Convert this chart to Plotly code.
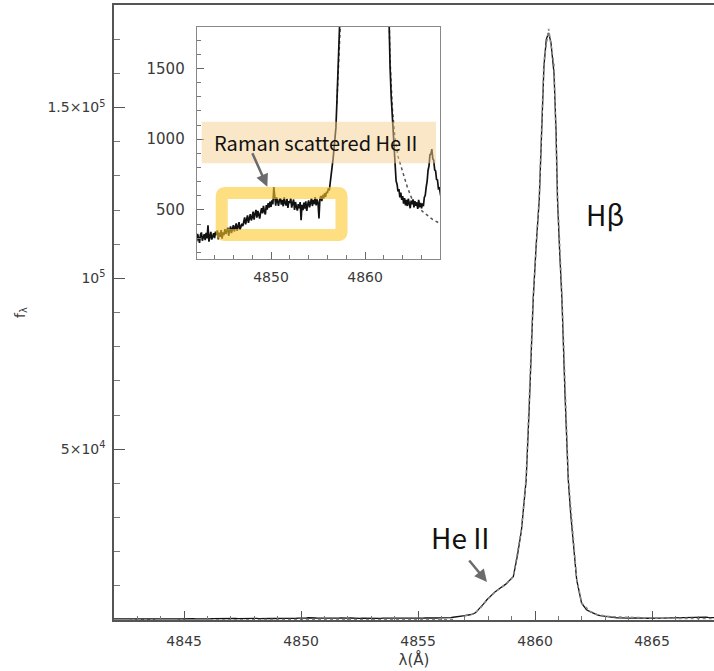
import plotly.graph_objects as go

# ---------------- data ----------------
# blue side continuum with Raman scattered He II (noisy, 0.1 A sampling)
blue_wl = [
    4842.0, 4842.1, 4842.2, 4842.3, 4842.4, 4842.5, 4842.6, 4842.7, 4842.8, 4842.9,
    4843.0, 4843.1, 4843.2, 4843.3, 4843.4, 4843.5, 4843.6, 4843.7, 4843.8, 4843.9,
    4844.0, 4844.1, 4844.2, 4844.3, 4844.4, 4844.5, 4844.6, 4844.7, 4844.8, 4844.9,
    4845.0, 4845.1, 4845.2, 4845.3, 4845.4, 4845.5, 4845.6, 4845.7, 4845.8, 4845.9,
    4846.0, 4846.1, 4846.2, 4846.3, 4846.4, 4846.5, 4846.6, 4846.7, 4846.8, 4846.9,
    4847.0, 4847.1, 4847.2, 4847.3, 4847.4, 4847.5, 4847.6, 4847.7, 4847.8, 4847.9,
    4848.0, 4848.1, 4848.2, 4848.3, 4848.4, 4848.5, 4848.6, 4848.7, 4848.8, 4848.9,
    4849.0, 4849.1, 4849.2, 4849.3, 4849.4, 4849.5, 4849.6, 4849.7, 4849.8, 4849.9,
    4850.0, 4850.1, 4850.2, 4850.3, 4850.4, 4850.5, 4850.6, 4850.7, 4850.8, 4850.9,
    4851.0, 4851.1, 4851.2, 4851.3, 4851.4, 4851.5, 4851.6, 4851.7, 4851.8, 4851.9,
    4852.0, 4852.1, 4852.2, 4852.3, 4852.4, 4852.5, 4852.6, 4852.7, 4852.8, 4852.9,
    4853.0, 4853.1, 4853.2, 4853.3, 4853.4, 4853.5, 4853.6, 4853.7, 4853.8, 4853.9,
    4854.0, 4854.1, 4854.2, 4854.3, 4854.4, 4854.5, 4854.6, 4854.7, 4854.8, 4854.9,
    4855.0, 4855.1, 4855.2, 4855.3, 4855.4, 4855.5, 4855.6, 4855.7, 4855.8, 4855.9,
    4856.0, 4856.1, 4856.2, 4856.3, 4856.4, 4856.5,
]
blue_flux = [
    312, 278, 331, 296, 268, 325, 341, 283, 306, 329,
    287, 338, 300, 392, 276, 319, 345, 291, 314, 336,
    301, 347, 322, 356, 292, 339, 311, 358, 298, 341,
    322, 365, 331, 352, 375, 318, 361, 384, 337, 369,
    392, 348, 381, 405, 352, 389, 414, 361, 377, 402,
    386, 425, 447, 398, 431, 462, 409, 440, 471, 426,
    447, 489, 431, 472, 501, 446, 493, 468, 439, 485,
    512, 476, 529, 488, 469, 534, 503, 548, 517, 559,
    521, 568, 540, 662, 571, 531, 589, 552, 529, 574,
    582, 538, 571, 526, 590, 549, 531, 579, 515, 562,
    551, 583, 517, 548, 574, 501, 556, 523, 495, 541,
    512, 556, 428, 537, 498, 552, 509, 561, 494, 538,
    567, 519, 553, 582, 528, 571, 541, 590, 532, 574,
    551, 440, 577, 598, 563, 606, 581, 619, 592, 628,
    620, 652, 639, 688, 721, 806,
]
# He II 4859 shoulder and H-beta core
core_wl = [
    4856.6, 4856.7, 4856.8, 4856.9, 4857.0, 4857.1, 4857.2, 4857.3, 4857.45, 4857.65,
    4857.8, 4857.95, 4858.08, 4858.3, 4858.5, 4858.75, 4859.07, 4859.25, 4859.42, 4859.62,
    4859.75, 4859.92, 4860.05, 4860.18, 4860.28, 4860.38, 4860.48, 4860.58, 4860.68, 4860.81,
    4860.9, 4860.96, 4861.05, 4861.15, 4861.28, 4861.42, 4861.52, 4861.64, 4861.78, 4861.99,
    4862.2, 4862.35, 4862.5, 4862.66, 4862.78, 4862.9, 4863.0, 4863.16,
]
core_flux = [
    860, 925, 990, 1080, 1250, 1390, 1512, 1660, 2100, 3450,
    4700, 6000, 6850, 8300, 9300, 10500, 12700, 19000, 26400, 41000,
    62000, 93700, 110000, 123000, 142500, 162000, 170000, 171800, 169000, 160000,
    142500, 123000, 108000, 93700, 66000, 41000, 31260, 21500, 11740, 4920,
    3000, 2460, 1900, 1512, 1300, 1159, 1000, 853,
]
# red side continuum and weak line (noisy)
red_wl = [
    4863.3, 4863.4, 4863.5, 4863.6, 4863.7, 4863.8, 4863.9,
    4864.0, 4864.1, 4864.2, 4864.3, 4864.4, 4864.5, 4864.6, 4864.7, 4864.8, 4864.9,
    4865.0, 4865.1, 4865.2, 4865.3, 4865.4, 4865.5, 4865.6, 4865.7, 4865.8, 4865.9,
    4866.0, 4866.1, 4866.2, 4866.3, 4866.4, 4866.5, 4866.6, 4866.7, 4866.8, 4866.9,
    4867.0, 4867.1, 4867.2, 4867.3, 4867.4, 4867.5, 4867.6, 4867.7, 4867.8, 4867.9,
    4868.0, 4868.1,
]
red_flux = [
    705, 682, 631, 648, 589, 622, 571,
    598, 545, 583, 532, 571, 528, 579, 536, 512, 566,
    541, 575, 518, 562, 529, 554, 508, 571, 522, 550,
    511, 547, 526, 588, 603, 661, 702, 781, 812, 891,
    896, 930, 862, 851, 783, 776, 715, 712, 651, 655,
    602, 580,
]
# model profile (dotted): faint blue continuum, then the H-beta + He II model
model_blue_wl = [4842.0, 4846.0, 4850.0, 4854.0, 4856.6]
model_blue_flux = [60, 80, 100, 120, 140]
model_wl = [
    4857.0, 4857.2, 4857.4, 4857.65, 4857.95, 4858.3, 4858.75, 4859.07, 4859.42, 4859.62,
    4859.92, 4860.18, 4860.38, 4860.58, 4860.81, 4860.96, 4861.15, 4861.42, 4861.64, 4861.78,
    4861.99, 4862.35, 4862.66, 4862.9, 4863.16, 4863.5, 4863.9, 4864.5, 4865.0, 4866.1,
    4867.2, 4868.1,
]
model_flux = [
    1250, 1500, 1850, 3400, 5900, 8300, 10400, 12800, 26600, 41500,
    94500, 124000, 163500, 173000, 162500, 124500, 95000, 41800, 21800, 11900,
    5000, 2520, 1560, 1220, 1020, 880, 785, 660, 575, 490,
    432, 400,
]
main_yticks = [50000, 100000, 150000]
main_yticktext = ["5×10<sup>4</sup>", "10<sup>5</sup>", "1.5×10<sup>5</sup>"]

obs_wl = blue_wl + core_wl + red_wl
obs_flux = blue_flux + core_flux + red_flux

# ---------------- layout geometry (pixels) ----------------
W, H = 714, 671
PL, PR, PT, PB = 114, 714, 5, 620  # main plot area
XRANGE = [4842.0, 4867.65]


def px(xp):
    return (xp - PL) / (PR - PL)


def py(yp):
    return (PB - yp) / (PB - PT)


TICK_FONT = dict(family="DejaVu Sans", size=14, color="#3a3a3a")
AXC = "#555555"

fig = go.Figure()

# main panel
fig.add_trace(go.Scatter(x=obs_wl, y=obs_flux, mode="lines",
                         line=dict(color="#111111", width=1.3),
                         xaxis="x", yaxis="y", showlegend=False))
for mw, mf in ((model_blue_wl, model_blue_flux), (model_wl, model_flux)):
    fig.add_trace(go.Scatter(x=mw, y=mf, mode="lines",
                             line=dict(color="#888888", width=1.6, dash="dot"),
                             xaxis="x", yaxis="y", showlegend=False))
# tick-carrier (overlay axis drawing the inside ticks of the main x axis)
fig.add_trace(go.Scatter(x=[XRANGE[0]], y=[None], mode="lines", xaxis="x3", yaxis="y",
                         showlegend=False, hoverinfo="skip"))
# inset panel
for mw, mf in ((model_blue_wl, model_blue_flux), (model_wl, model_flux)):
    fig.add_trace(go.Scatter(x=mw, y=mf, mode="lines",
                             line=dict(color="#555555", width=1.5, dash="dot"),
                             xaxis="x2", yaxis="y2", showlegend=False))
fig.add_trace(go.Scatter(x=obs_wl, y=obs_flux, mode="lines",
                         line=dict(color="#111111", width=1.7),
                         xaxis="x2", yaxis="y2", showlegend=False))

fig.update_layout(
    width=W, height=H,
    margin=dict(l=PL, r=W - PR, t=PT, b=H - PB, pad=0),
    paper_bgcolor="white", plot_bgcolor="white",
    xaxis=dict(
        range=XRANGE, domain=[0, 1], anchor="y",
        showline=True, linecolor=AXC, linewidth=1.5, mirror=True,
        showgrid=False, zeroline=False,
        ticks="outside", tick0=4845, dtick=5, ticklen=7, tickcolor="rgba(0,0,0,0)",
        tickfont=TICK_FONT,
        title=dict(text="λ(Å)", font=dict(family="DejaVu Sans", size=15, color="#3a3a3a"), standoff=7),
    ),
    xaxis3=dict(
        range=XRANGE, overlaying="x", anchor="y", side="bottom",
        showline=False, showgrid=False, zeroline=False, showticklabels=False,
        ticks="inside", tick0=4845, dtick=5, ticklen=9, tickwidth=1.2, tickcolor=AXC,
        minor=dict(ticks="inside", dtick=1, ticklen=4, tickwidth=1, tickcolor="#777777"),
    ),
    yaxis=dict(
        range=[0, 180000], domain=[0, 1], anchor="x",
        showline=True, linecolor=AXC, linewidth=1.5, mirror=False,
        showgrid=False, zeroline=False,
        ticks="inside", tickmode="array", tickvals=main_yticks, ticktext=main_yticktext,
        ticklen=11, tickwidth=1.2, tickcolor=AXC,
        minor=dict(ticks="inside", dtick=10000, tick0=0, ticklen=6, tickwidth=1, tickcolor="#777777"),
        tickfont=TICK_FONT, ticklabelstandoff=4,
        title=dict(text="f<sub>λ</sub>", font=dict(family="DejaVu Sans", size=14, color="#3a3a3a"), standoff=19),
    ),
    xaxis2=dict(
        range=[4842.1, 4868.0], domain=[px(196.7), px(440.3)], anchor="y2",
        showline=True, linecolor="#888888", linewidth=1, mirror=True,
        showgrid=False, zeroline=False,
        ticks="inside", tick0=4850, dtick=10, ticklen=7, tickwidth=1, tickcolor="#666666",
        minor=dict(ticks="inside", dtick=2, ticklen=4, tickwidth=1, tickcolor="#777777"),
        tickfont=TICK_FONT, ticklabelstandoff=6,
    ),
    yaxis2=dict(
        range=[157, 1795], domain=[py(258.5), py(26.7)], anchor="x2",
        showline=True, linecolor="#888888", linewidth=1, mirror=True,
        showgrid=False, zeroline=False,
        ticks="inside", tick0=0, dtick=500, ticklen=7, tickwidth=1, tickcolor="#666666",
        minor=dict(ticks="inside", dtick=100, ticklen=4, tickwidth=1, tickcolor="#777777"),
        tickfont=dict(family="DejaVu Sans", size=15, color="#3a3a3a"), ticklabelstandoff=8,
    ),
)

# highlight band behind the label
fig.add_shape(type="rect", xref="paper", yref="paper",
              x0=px(201.7), x1=px(436), y0=py(163.3), y1=py(121.7),
              line=dict(width=0), fillcolor="rgba(246,208,146,0.5)", layer="above")

# rounded yellow frame around the Raman feature
fx0, fx1, fy0, fy1, r = 221.7, 341.5, 193.0, 235.0, 3.0
path = (
    f"M {px(fx0 + r)},{py(fy0)} L {px(fx1 - r)},{py(fy0)} "
    f"Q {px(fx1)},{py(fy0)} {px(fx1)},{py(fy0 + r)} "
    f"L {px(fx1)},{py(fy1 - r)} Q {px(fx1)},{py(fy1)} {px(fx1 - r)},{py(fy1)} "
    f"L {px(fx0 + r)},{py(fy1)} Q {px(fx0)},{py(fy1)} {px(fx0)},{py(fy1 - r)} "
    f"L {px(fx0)},{py(fy0 + r)} Q {px(fx0)},{py(fy0)} {px(fx0 + r)},{py(fy0)} Z"
)
fig.add_shape(type="path", xref="paper", yref="paper", path=path,
              line=dict(color="rgba(252,200,43,0.6)", width=12), layer="above")

LABEL_FONT = "Noto Sans CJK KR"
fig.add_annotation(xref="paper", yref="paper", x=px(315), y=py(142),
                   text="Raman scattered He II", showarrow=False,
                   font=dict(family=LABEL_FONT, size=20, color="#111111"),
                   xanchor="center", yanchor="middle")
fig.add_annotation(xref="paper", yref="paper", x=px(267.3), y=py(186.7),
                   ax=-15.6, ay=-35, text="", showarrow=True,
                   arrowhead=2, arrowsize=1, arrowwidth=2.5, arrowcolor="#6b6b6b")

fig.add_annotation(xref="paper", yref="paper", x=px(605), y=py(214),
                   text="Hβ", showarrow=False,
                   font=dict(family=LABEL_FONT, size=28, color="#111111"),
                   xanchor="center", yanchor="middle")
fig.add_annotation(xref="paper", yref="paper", x=px(460), y=py(537),
                   text="He II", showarrow=False,
                   font=dict(family=LABEL_FONT, size=28, color="#111111"),
                   xanchor="center", yanchor="middle")
fig.add_annotation(xref="paper", yref="paper", x=px(487), y=py(582),
                   ax=-19, ay=-23, text="", showarrow=True,
                   arrowhead=2, arrowsize=1, arrowwidth=2.5, arrowcolor="#6b6b6b")

fig.write_html("out.html")
